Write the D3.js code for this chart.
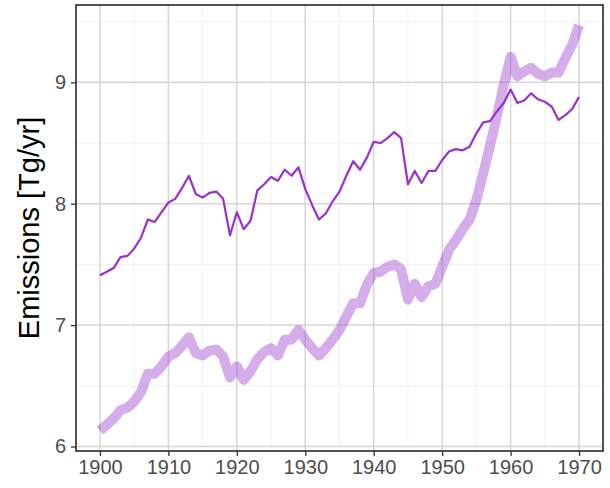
<!DOCTYPE html>
<html>
<head>
<meta charset="utf-8">
<script src="https://cdn.jsdelivr.net/npm/d3@7"></script>
<style>
  body { margin: 0; background: #fff; }
  svg { display: block; font-family: "Liberation Sans", Arial, sans-serif; }
</style>
</head>
<body>
<div id="chart"></div>
<script>
// years 1900..1970
const years = d3.range(1900, 1971);

// thin line
const seriesA = [
  7.41, 7.44, 7.47, 7.56, 7.57, 7.63, 7.72, 7.87, 7.85, 7.93,
  8.01, 8.04, 8.13, 8.23, 8.08, 8.05, 8.09, 8.10, 8.04, 7.74,
  7.93, 7.79, 7.86, 8.11, 8.16, 8.22, 8.19, 8.28, 8.23, 8.30,
  8.12, 7.99, 7.87, 7.92, 8.02, 8.10, 8.23, 8.35, 8.28, 8.38,
  8.51, 8.50, 8.54, 8.59, 8.54, 8.16, 8.27, 8.17, 8.27, 8.27,
  8.36, 8.43, 8.45, 8.44, 8.47, 8.58, 8.67, 8.68, 8.76, 8.83,
  8.94, 8.83, 8.85, 8.91, 8.86, 8.84, 8.80, 8.69, 8.73, 8.78,
  8.88
];

// thick smooth line
const seriesB = [
  6.13, 6.18, 6.23, 6.30, 6.32, 6.37, 6.45, 6.60, 6.60, 6.66,
  6.74, 6.77, 6.83, 6.90, 6.77, 6.75, 6.79, 6.80, 6.74, 6.57,
  6.66, 6.55, 6.62, 6.72, 6.78, 6.81, 6.75, 6.88, 6.88, 6.96,
  6.88, 6.81, 6.75, 6.81, 6.88, 6.96, 7.07, 7.18, 7.18, 7.33,
  7.43, 7.44, 7.48, 7.50, 7.46, 7.21, 7.34, 7.23, 7.32, 7.34,
  7.48, 7.62, 7.70, 7.79, 7.87, 8.03, 8.25, 8.48, 8.72, 8.98,
  9.21, 9.05, 9.09, 9.12, 9.07, 9.05, 9.08, 9.08, 9.20, 9.31,
  9.47
];

const xTicks = [1900, 1910, 1920, 1930, 1940, 1950, 1960, 1970];
const yTicks = [6, 7, 8, 9];
const xMinor = [1905, 1915, 1925, 1935, 1945, 1955, 1965];
const yMinor = [6.5, 7.5, 8.5, 9.5];

const W = 610, H = 488;
const margin = { top: 5, right: 7, bottom: 37, left: 76 };
const width = W - margin.left - margin.right;
const height = H - margin.top - margin.bottom;

const svg = d3.select('#chart')
  .append('svg')
  .attr('width', W)
  .attr('height', H);

const g = svg.append('g')
  .attr('transform', `translate(${margin.left},${margin.top})`);

// ggplot-style 5% expansion
const xr = d3.extent(years);
const xPad = (xr[1] - xr[0]) * 0.05;
const x = d3.scaleLinear()
  .domain([xr[0] - xPad, xr[1] + xPad])
  .range([0, width]);

const yr = d3.extent(seriesA.concat(seriesB));
const yPad = (yr[1] - yr[0]) * 0.05;
const y = d3.scaleLinear()
  .domain([yr[0] - yPad, yr[1] + yPad])
  .range([height, 0]);

// minor grid
g.selectAll('.xminor').data(xMinor).enter().append('line')
  .attr('x1', d => x(d)).attr('x2', d => x(d))
  .attr('y1', 0).attr('y2', height)
  .attr('stroke', '#efefef').attr('stroke-width', 0.9);
g.selectAll('.yminor').data(yMinor).enter().append('line')
  .attr('x1', 0).attr('x2', width)
  .attr('y1', d => y(d)).attr('y2', d => y(d))
  .attr('stroke', '#efefef').attr('stroke-width', 0.9);

// major grid
g.selectAll('.xmajor').data(xTicks).enter().append('line')
  .attr('x1', d => x(d)).attr('x2', d => x(d))
  .attr('y1', 0).attr('y2', height)
  .attr('stroke', '#d6d6d6').attr('stroke-width', 1.5);
g.selectAll('.ymajor').data(yTicks).enter().append('line')
  .attr('x1', 0).attr('x2', width)
  .attr('y1', d => y(d)).attr('y2', d => y(d))
  .attr('stroke', '#d6d6d6').attr('stroke-width', 1.5);

const line = d3.line()
  .x((d, i) => x(years[i]))
  .y(d => y(d));

g.append('path')
  .datum(seriesB)
  .attr('d', line)
  .attr('fill', 'none')
  .attr('stroke', '#9932CC')
  .attr('stroke-opacity', 0.4)
  .attr('stroke-width', 10)
  .attr('stroke-linejoin', 'round');

g.append('path')
  .datum(seriesA)
  .attr('d', line)
  .attr('fill', 'none')
  .attr('stroke', '#9932CC')
  .attr('stroke-width', 2.2)
  .attr('stroke-linejoin', 'round');

// panel border
g.append('rect')
  .attr('x', 0).attr('y', 0)
  .attr('width', width).attr('height', height)
  .attr('fill', 'none')
  .attr('stroke', '#1a1a1a')
  .attr('stroke-width', 1.5);

// axes
const xAxis = g.append('g')
  .attr('transform', `translate(0,${height})`)
  .call(d3.axisBottom(x).tickValues(xTicks).tickFormat(d3.format('d')).tickSize(5).tickPadding(4));
const yAxis = g.append('g')
  .call(d3.axisLeft(y).tickValues(yTicks).tickFormat(d3.format('d')).tickSize(5).tickPadding(5));

[xAxis, yAxis].forEach(a => {
  a.select('.domain').remove();
  a.selectAll('line').attr('stroke', '#333').attr('stroke-width', 1.3);
  a.selectAll('text')
    .attr('fill', '#4d4d4d')
    .style('font-size', '20px');
});

svg.append('text')
  .attr('text-anchor', 'middle')
  .attr('transform', 'rotate(-90)')
  .attr('x', -(margin.top + height / 2))
  .attr('y', 39)
  .style('font-size', '29px')
  .attr('fill', '#000')
  .text('Emissions [Tg/yr]');
</script>
</body>
</html>
